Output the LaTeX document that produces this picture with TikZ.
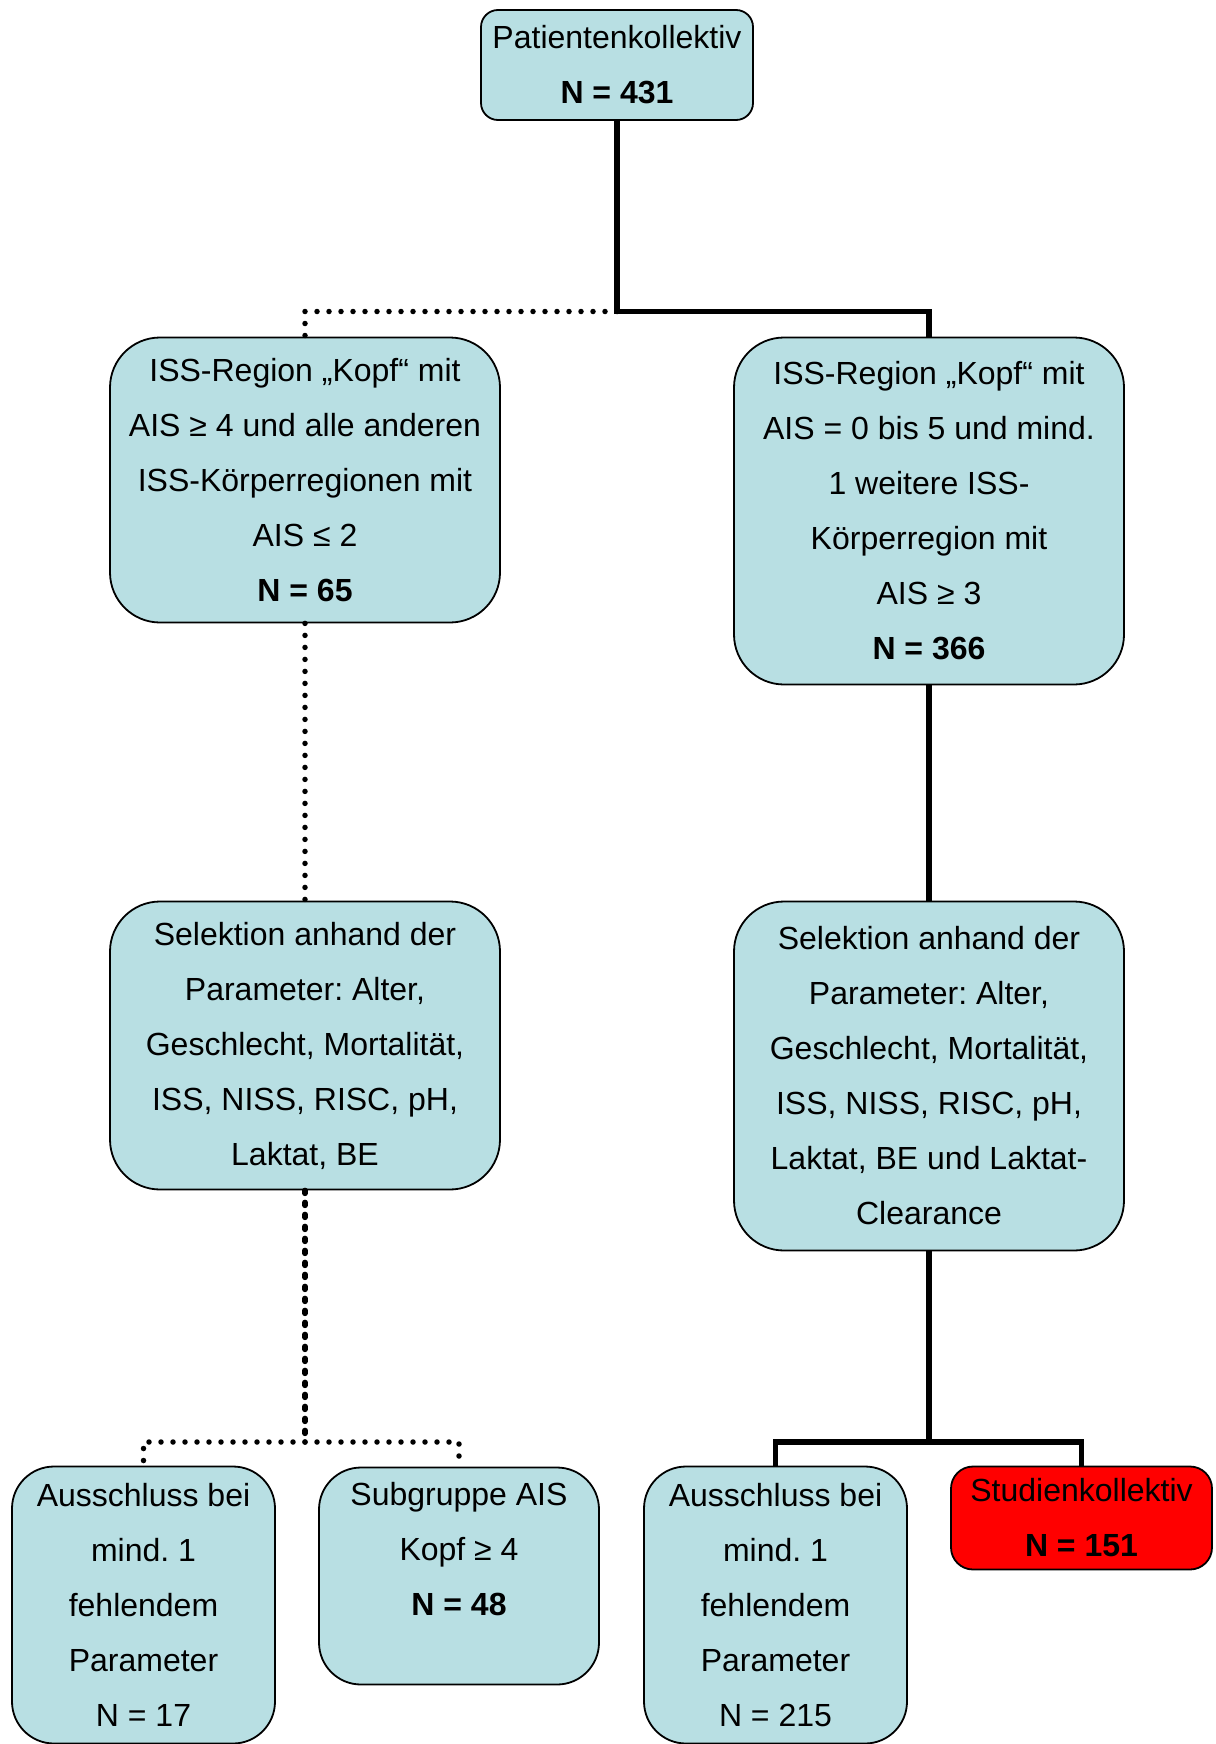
\documentclass[tikz,border=0pt]{standalone}
\usepackage{fontspec}
\setmainfont{Liberation Sans}
\frenchspacing
\definecolor{boxblue}{RGB}{184,223,227}
\definecolor{boxred}{RGB}{255,0,0}
\begin{document}
\begin{tikzpicture}[x=1pt,y=-1pt,
  box/.style={draw=black, line width=1.8pt, fill=boxblue, align=center,
    inner sep=0pt, font=\frenchspacing\fontsize{32}{55}\selectfont},
  solidline/.style={line width=5.5pt},
  dotline/.style={line width=5.5pt, dash pattern=on 0pt off 12pt, line cap=round},
  dotline2/.style={line width=5.5pt, dash pattern=on 3pt off 9pt, line cap=round}]
\useasboundingbox (0,0) rectangle (1215,1744);

\node[box, rounded corners=17pt, minimum width=272pt, minimum height=110pt] (top) at (617,65)
  {Patientenkollektiv\\\textbf{N = 431}};

\node[box, rounded corners=50pt, minimum width=390pt, minimum height=285pt] (l2) at (305,480)
  {ISS-Region „Kopf“ mit\\AIS ≥ 4 und alle anderen\\ISS-Körperregionen mit\\AIS ≤ 2\\\textbf{N = 65}};

\node[box, rounded corners=50pt, minimum width=390pt, minimum height=347pt] (r2) at (929,511)
  {ISS-Region „Kopf“ mit\\AIS = 0 bis 5 und mind.\\1 weitere ISS-\\Körperregion mit\\AIS ≥ 3\\\textbf{N = 366}};

\node[box, rounded corners=50pt, minimum width=390pt, minimum height=288pt] (l3) at (305,1045.5)
  {Selektion anhand der\\Parameter: Alter,\\Geschlecht, Mortalität,\\ISS, NISS, RISC, pH,\\Laktat, BE};

\node[box, rounded corners=50pt, minimum width=390pt, minimum height=349pt] (r3) at (929,1076)
  {Selektion anhand der\\Parameter: Alter,\\Geschlecht, Mortalität,\\ISS, NISS, RISC, pH,\\Laktat, BE und Laktat-\\Clearance};

\node[box, rounded corners=42pt, minimum width=263pt, minimum height=277pt] (b1) at (143.5,1605)
  {Ausschluss bei\\mind. 1\\fehlendem\\Parameter\\N = 17};

\node[box, rounded corners=42pt, minimum width=280pt, minimum height=217pt] (b2) at (459,1576)
  {Subgruppe AIS\\Kopf ≥ 4\\\textbf{N = 48}\\\mbox{}};

\node[box, rounded corners=42pt, minimum width=263pt, minimum height=277pt] (b3) at (775.5,1605)
  {Ausschluss bei\\mind. 1\\fehlendem\\Parameter\\N = 215};

\node[box, fill=boxred, rounded corners=22pt, minimum width=261pt, minimum height=103pt] (b4) at (1081.5,1518)
  {Studienkollektiv\\\textbf{N = 151}};

\coordinate (j1) at (617,311.5);
\coordinate (j2) at (305,1442);
\coordinate (j3) at (929,1442);

\draw[solidline] (top.south) -- (j1) -| (r2.north);
\draw[dotline] (j1) -| (l2.north);
\draw[dotline] (l2.south) -- (l3.north);
\draw[solidline] (r2.south) -- (r3.north);
\draw[dotline2] (l3.south) -- (j2);
\draw[dotline] (j2) -| (b1.north);
\draw[dotline] (j2) -| (b2.north);
\draw[solidline] (r3.south) -- (j3) -| (b3.north);
\draw[solidline] (j3) -| (b4.north);
\end{tikzpicture}
\end{document}
